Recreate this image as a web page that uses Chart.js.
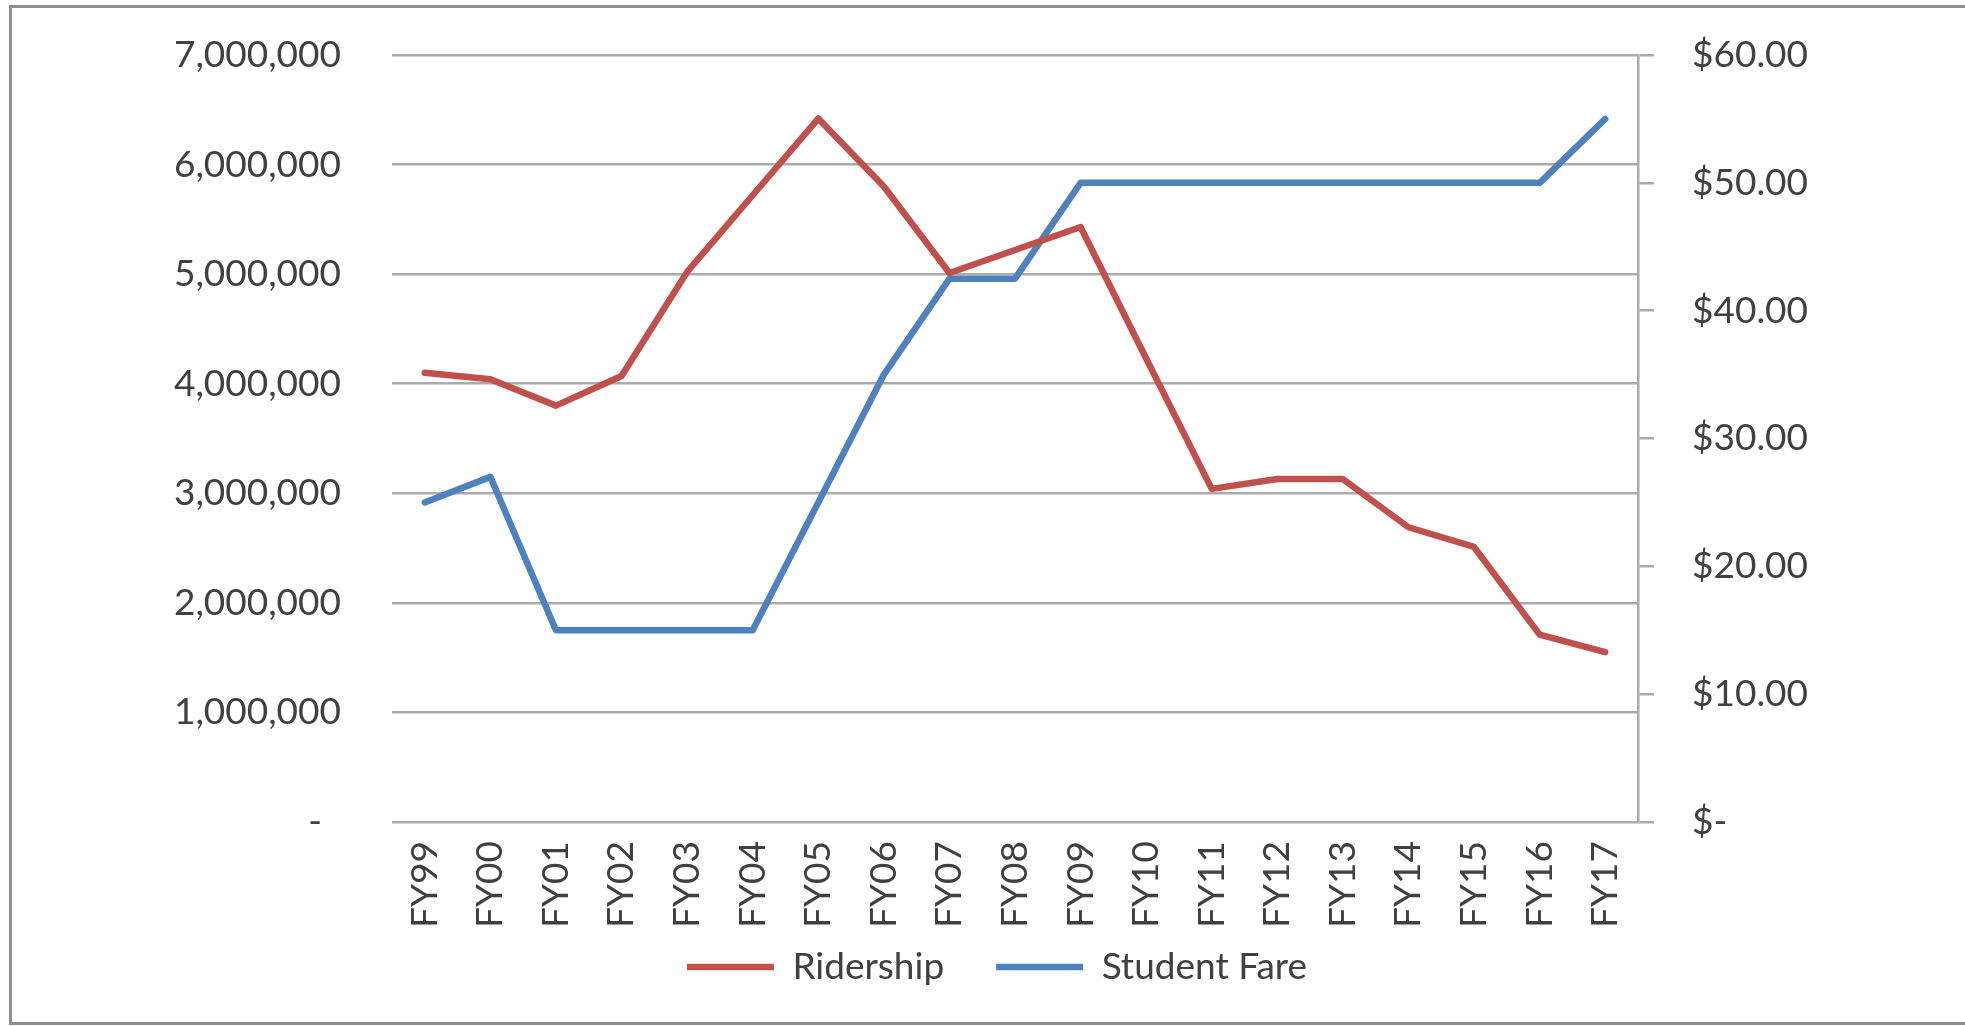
<!DOCTYPE html>
<html lang="en">
<head>
    <meta charset="UTF-8">
    <title>Ridership and Student Fare</title>
    <script src="https://cdn.jsdelivr.net/npm/chart.js"></script>
    <style>
        html, body {
            margin: 0;
            padding: 0;
            background: white;
            overflow: hidden;
        }
        .moldura {
            position: absolute;
            left: 9px;
            top: 5px;
            width: 1980px;
            height: 1014px;
            border: 3px solid #8f8f8f;
            background: white;
        }
        canvas {
            display: block;
        }
    </style>
</head>
<body>
    <div class="moldura">
        <canvas id="grafico" width="1970" height="1014"></canvas>
    </div>

    <script>
        const categories = ["FY99", "FY00", "FY01", "FY02", "FY03", "FY04", "FY05", "FY06", "FY07", "FY08",
                            "FY09", "FY10", "FY11", "FY12", "FY13", "FY14", "FY15", "FY16", "FY17"];
        const ridership = [4100000, 4040000, 3800000, 4070000, 5020000, 5720000, 6420000, 5800000, 5010000, 5220000,
                           5430000, 4230000, 3040000, 3130000, 3130000, 2690000, 2510000, 1710000, 1550000];
        const studentFare = [25, 27, 15, 15, 15, 15, 25, 35, 42.5, 42.5,
                             50, 50, 50, 50, 50, 50, 50, 50, 55];
        const ridershipTicks = ["-  ", "1,000,000", "2,000,000", "3,000,000", "4,000,000", "5,000,000", "6,000,000", "7,000,000"];
        const fareTicks = ["$-", "$10.00", "$20.00", "$30.00", "$40.00", "$50.00", "$60.00"];

        const corTexto = "#404040";
        const corGrade = "#ababab";

        Chart.defaults.font.family = "Lato";
        Chart.defaults.font.size = 37;
        Chart.defaults.color = corTexto;

        // the x labels are clipped to the axis box; let them run down over the legend area
        const liberaRotulos = {
            id: "liberaRotulos",
            afterLayout(chart) {
                chart.scales.x.bottom = chart.height;
            }
        };

        // no extra space above/below the value axes for their labels
        function semRespiro(scale) {
            scale.paddingTop = 0;
            scale.paddingBottom = 0;
        }

        const ctx = document.getElementById("grafico").getContext("2d");
        new Chart(ctx, {
            type: "line",
            data: {
                labels: categories,
                datasets: [{
                    label: "Ridership",
                    data: ridership,
                    yAxisID: "y",
                    borderColor: "#c0504d",
                    backgroundColor: "#c0504d",
                    borderWidth: 6.5,
                    borderCapStyle: "round",
                    borderJoinStyle: "round",
                    pointRadius: 0,
                    tension: 0
                }, {
                    label: "Student Fare",
                    data: studentFare,
                    yAxisID: "y1",
                    borderColor: "#4f81bd",
                    backgroundColor: "#4f81bd",
                    borderWidth: 6.5,
                    borderCapStyle: "round",
                    borderJoinStyle: "round",
                    pointRadius: 0,
                    tension: 0
                }]
            },
            plugins: [liberaRotulos],
            options: {
                responsive: false,
                animation: false,
                layout: {
                    padding: { top: 47, bottom: 26.5, left: 0, right: 0 }
                },
                plugins: {
                    tooltip: { enabled: false },
                    legend: {
                        position: "bottom",
                        maxHeight: 100,
                        labels: {
                            usePointStyle: true,
                            pointStyle: "line",
                            pointStyleWidth: 87,
                            padding: 52,
                            color: corTexto
                        }
                    }
                },
                scales: {
                    x: {
                        offset: true,
                        grid: { display: false },
                        border: { display: false },
                        ticks: {
                            minRotation: 90,
                            maxRotation: 90,
                            padding: 11,
                            autoSkip: false
                        },
                        afterFit: scale => { scale.height = 74.5; }
                    },
                    y: {
                        position: "left",
                        min: 0,
                        max: 7000000,
                        grid: {
                            color: corGrade,
                            lineWidth: 2.5,
                            drawTicks: false
                        },
                        border: { display: false },
                        ticks: {
                            stepSize: 1000000,
                            padding: 51,
                            callback: (value, index) => ridershipTicks[index]
                        },
                        afterFit: scale => { scale.width = 380; semRespiro(scale); }
                    },
                    y1: {
                        position: "right",
                        min: 0,
                        max: 60,
                        grid: {
                            drawOnChartArea: false,
                            color: corGrade,
                            lineWidth: 2.5,
                            tickLength: 16
                        },
                        border: { display: true, color: corGrade, width: 2.5 },
                        ticks: {
                            stepSize: 10,
                            padding: 38,
                            callback: (value, index) => fareTicks[index]
                        },
                        afterFit: scale => { scale.width = 344; semRespiro(scale); }
                    }
                }
            }
        });
    </script>
</body>
</html>
